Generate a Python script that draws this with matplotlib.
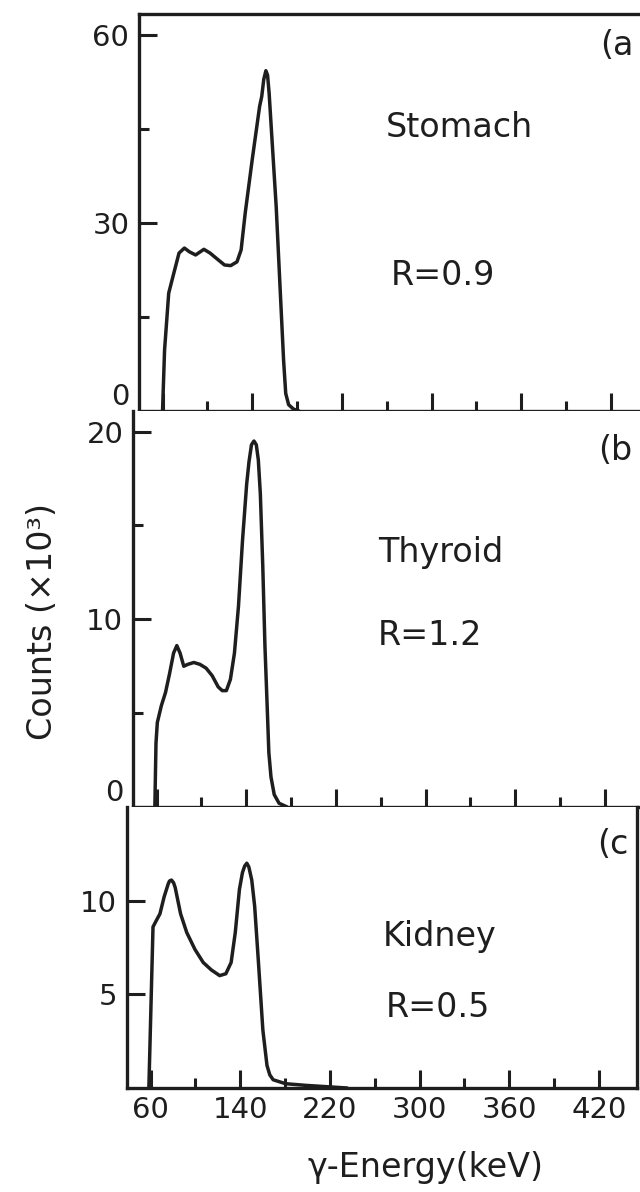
import matplotlib
matplotlib.use("Agg")
import matplotlib.pyplot as plt
import numpy as np

# gamma spectra (energy in keV, counts in units of 10^3)
stomach_kev = [60.0, 61.8, 65.5, 69.2, 74.7, 79.5, 84.0, 89.5, 96.9, 102.4, 109.8, 115.3,
               120.8, 126.4, 130.1, 133.7, 140.0, 146.6, 148.5, 150.3, 152.2, 153.7,
               155.1, 157.7, 161.4, 165.1, 168.0, 169.9, 172.5, 176.9, 181.7]
stomach_counts = [0.0, 9.7, 18.8, 21.4, 25.2, 26.0, 25.4, 24.9, 25.8, 25.2, 24.1, 23.3,
                  23.2, 23.8, 25.7, 31.5, 40.1, 48.6, 50.2, 52.9, 54.3, 53.6,
                  50.7, 43.2, 32.6, 18.8, 8.1, 2.8, 1.0, 0.3, 0.0]

thyroid_kev = [58.5, 59.5, 60.7, 64.3, 68.0, 71.6, 75.2, 78.1, 81.0, 84.3, 87.9, 93.3,
               98.7, 104.2, 109.6, 115.0, 118.6, 122.3, 125.9, 129.5, 133.1, 136.7,
               140.4, 142.5, 144.7, 146.9, 149.0, 150.8, 152.6, 154.8, 156.7, 158.5,
               160.2, 162.1, 165.0, 169.3, 176.6]
thyroid_counts = [0.0, 3.4, 4.5, 5.4, 6.1, 7.1, 8.2, 8.6, 8.2, 7.5, 7.6, 7.7,
                  7.6, 7.4, 7.0, 6.4, 6.2, 6.2, 6.8, 8.2, 10.7, 14.2,
                  17.2, 18.4, 19.3, 19.5, 19.3, 18.5, 16.7, 12.8, 8.6, 5.7,
                  2.9, 1.6, 0.66, 0.2, 0.0]

kidney_kev = [58.5, 62.2, 64.8, 68.4, 72.1, 75.8, 76.9, 78.7, 80.6, 82.0, 86.8, 92.3,
              99.6, 107.0, 114.3, 121.7, 127.2, 131.9, 135.6, 139.3, 142.0, 144.0,
              145.9, 147.7, 150.3, 152.9, 156.5, 160.2, 163.9, 166.4, 169.4, 180.4,
              198.7, 217.1, 235.4]
kidney_counts = [0.0, 8.6, 8.9, 9.3, 10.2, 10.9, 11.05, 11.1, 10.95, 10.7, 9.3, 8.3,
                 7.4, 6.7, 6.3, 6.0, 6.1, 6.7, 8.3, 10.6, 11.5, 11.85,
                 12.0, 11.8, 11.1, 9.7, 6.5, 3.1, 1.2, 0.7, 0.44, 0.23,
                 0.14, 0.07, 0.0]

organs = ["Stomach", "Thyroid", "Kidney"]
r_texts = ["R=0.9", "R=1.2", "R=0.5"]
panel_tags = ["(a", "(b", "(c"]

x_major = [60, 140, 220, 300, 380, 460]
x_major_labels = ["60", "140", "220", "300", "360", "420"]
x_minor = [100, 180, 260, 340, 420]

y_major = [[0, 30, 60], [0, 10, 20], [5, 10]]
y_minor = [[15, 45], [5, 15], []]
y_limits = [(0, 63.35), (0, 21.1), (0, 15.0)]

W, H = 640, 1192
ink = "#1e1e1e"
plt.rcParams['font.family'] = ['DejaVu Sans']

fig = plt.figure(figsize=(W / 100, H / 100), dpi=100)


def px_axes(left, top, bottom, width=510):
    return fig.add_axes([left / W, 1 - bottom / H, width / W, (bottom - top) / H])


axes = [px_axes(139, 14, 411), px_axes(133, 411, 807), px_axes(127, 807, 1088)]
curves = [(stomach_kev, stomach_counts), (thyroid_kev, thyroid_counts),
          (kidney_kev, kidney_counts)]

for i, ax in enumerate(axes):
    kev, cnt = curves[i]
    ax.plot(kev, cnt, color=ink, lw=2.5, solid_joinstyle='round',
            solid_capstyle='round', clip_on=False)
    ax.set_xlim(39, 494)
    ax.set_ylim(*y_limits[i])

    ax.set_xticks(x_major)
    ax.set_xticks(x_minor, minor=True)
    ax.set_yticks(y_major[i])
    ax.set_yticks(y_minor[i], minor=True)
    if i == 2:
        ax.set_xticklabels(x_major_labels)
    else:
        ax.set_xticklabels([])

    ax.tick_params(which='both', direction='in', color=ink, width=2.2,
                   top=False, right=False, labelsize=21, labelcolor=ink)
    ax.tick_params(which='major', length=13, pad=7)
    ax.tick_params(which='minor', length=7)
    ax.tick_params(axis='x', which='major', pad=6)

    for side, sp in ax.spines.items():
        sp.set_linewidth(2.4)
        sp.set_color(ink)
    if i < 2:
        ax.spines['right'].set_visible(False)
        # the zero label sits just above the baseline in the original
        ax.yaxis.get_major_ticks()[0].label1.set_verticalalignment('bottom')
    if i > 0:
        ax.spines['top'].set_visible(False)

# panel annotations (pixel positions of the reference)
label_pos = [((386, 137), (391, 285), (600, 55)),
             ((378, 562), (378, 645), (598, 460)),
             ((383, 946), (386, 1017), (597, 854))]
for i in range(3):
    (ox, oy), (rx, ry), (tx, ty) = label_pos[i]
    fig.text(ox / W, 1 - oy / H, organs[i], fontsize=24, color=ink, va='baseline')
    fig.text(rx / W, 1 - ry / H, r_texts[i], fontsize=24, color=ink, va='baseline')
    fig.text(tx / W, 1 - ty / H, panel_tags[i], fontsize=24, color=ink, va='baseline')

fig.text(43 / W, 1 - 622 / H, "Counts (×10³)", rotation=90, fontsize=24,
         color=ink, ha='center', va='center')
fig.text(425 / W, 1 - 1168 / H, "γ-Energy(keV)", fontsize=24, color=ink,
         ha='center', va='center')

fig.savefig("out.png", dpi=100, facecolor='white')
